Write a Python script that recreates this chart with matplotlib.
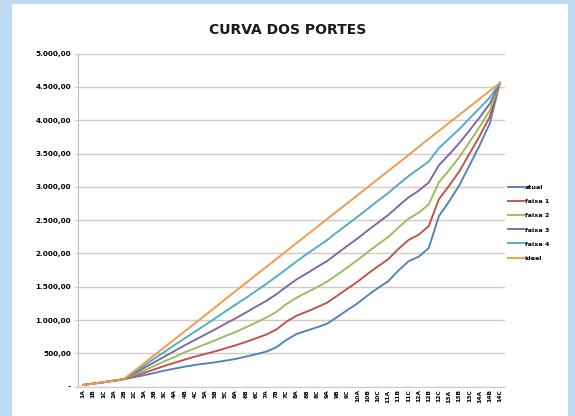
import matplotlib
matplotlib.use("Agg")
import matplotlib.pyplot as plt
from matplotlib.ticker import FuncFormatter

# categorias do eixo x
categorias = ['1A', '1B', '1C', '2A', '2B', '2C', '3A', '3B', '3C',
              '4A', '4B', '4C', '5A', '5B', '5C', '6A', '6B', '6C',
              '7A', '7B', '7C', '8A', '8B', '8C', '9A', '9B', '9C',
              '10A', '10B', '10C', '11A', '11B', '11C', '12A', '12B', '12C',
              '13A', '13B', '13C', '14A', '14B', '14C']

# valores (aproximados)
atual = [25, 45, 65, 88, 110, 140, 170, 205, 240, 270, 300, 325, 345, 365,
         390, 415, 450, 485, 525, 590, 700, 790, 840, 890, 945, 1045, 1150,
         1250, 1370, 1480, 1580, 1740, 1880, 1950, 2080, 2560, 2780, 3020,
         3320, 3620, 3950, 4560]
faixa1 = [25, 45, 65, 88, 110, 158, 205, 258, 310, 358, 405, 450, 490, 530,
          575, 620, 670, 725, 780, 855, 975, 1065, 1125, 1190, 1260, 1365,
          1470, 1575, 1695, 1805, 1910, 2065, 2200, 2280, 2410, 2815, 3015,
          3230, 3495, 3760, 4050, 4560]
faixa2 = [25, 45, 65, 88, 110, 175, 240, 310, 380, 445, 515, 575, 635, 695,
          760, 820, 890, 960, 1035, 1120, 1240, 1335, 1415, 1490, 1575, 1680,
          1790, 1900, 2020, 2135, 2245, 2385, 2520, 2610, 2735, 3070, 3250,
          3445, 3670, 3900, 4145, 4560]
faixa3 = [25, 45, 65, 88, 110, 195, 280, 365, 450, 535, 620, 700, 780, 860,
          945, 1025, 1110, 1200, 1285, 1385, 1500, 1610, 1700, 1795, 1885,
          2000, 2115, 2225, 2345, 2460, 2575, 2710, 2840, 2940, 3065, 3325,
          3485, 3655, 3845, 4040, 4245, 4560]
faixa4 = [25, 45, 65, 88, 110, 210, 315, 420, 520, 625, 725, 825, 925, 1025,
          1130, 1230, 1330, 1435, 1540, 1650, 1765, 1880, 1990, 2095, 2200,
          2320, 2435, 2550, 2670, 2790, 2905, 3035, 3160, 3270, 3380, 3580,
          3725, 3865, 4025, 4180, 4340, 4560]
ideal = [25, 45, 65, 88, 110, 230, 350, 470, 590, 710, 830, 950, 1070, 1190,
         1315, 1435, 1555, 1675, 1795, 1915, 2035, 2155, 2275, 2395, 2515,
         2635, 2755, 2875, 2995, 3115, 3235, 3355, 3475, 3600, 3720, 3840,
         3960, 4080, 4200, 4320, 4440, 4560]

series = [('atual', atual, '#4F81BD'),
          ('faixa 1', faixa1, '#C0504D'),
          ('faixa 2', faixa2, '#9BBB59'),
          ('faixa 3', faixa3, '#8064A2'),
          ('faixa 4', faixa4, '#4BACC6'),
          ('ideal', ideal, '#F79646')]


def fmt_valor(v, pos):
    # formato contabil do Excel: 5.000,00 e "-" para zero
    if abs(v) < 1e-9:
        return '-'
    s = '{:,.2f}'.format(v)
    return s.replace(',', '#').replace('.', ',').replace('#', '.')


fig = plt.figure(figsize=(5.75, 4.16), dpi=100, facecolor='#BDDCF3')
# painel branco
painel = plt.Rectangle((12 / 575, 0), 556 / 575, 412 / 416,
                       transform=fig.transFigure, facecolor='white',
                       edgecolor='none', zorder=-10)
fig.add_artist(painel)

ax = fig.add_axes([78 / 575, 29.4 / 416, 427 / 575, 333 / 416])
ax.set_zorder(1)
ax.set_facecolor('white')

x = list(range(len(categorias)))
for nome, valores, cor in series:
    ax.plot(x, valores, color=cor, linewidth=1.35, label=nome)

ax.set_xlim(-0.5, len(categorias) - 0.5)
ax.set_ylim(0, 5000)
ax.set_yticks(range(0, 5001, 500))
ax.yaxis.set_major_formatter(FuncFormatter(fmt_valor))
ax.set_xticks(x)
ax.set_xticklabels(categorias, rotation=90, fontsize=4.3, fontweight='bold')

ax.grid(axis='y', color='#D5C9C5', linewidth=1.0)
ax.set_axisbelow(True)
for lado in ['top', 'right']:
    ax.spines[lado].set_visible(False)
ax.spines['left'].set_color('#C9BDB8')
ax.spines['bottom'].set_color('#D5C9C5')
ax.tick_params(axis='y', labelsize=5.2, length=2.5, width=0.8,
               color='#C9BDB8', pad=2.5)
ax.tick_params(axis='x', length=0, pad=2)
for t in ax.get_yticklabels():
    t.set_fontweight('bold')

fig.text(288 / 575, 1 - 30 / 416, 'CURVA DOS PORTES', ha='center',
         va='center', fontsize=10, fontweight='bold', color='#1a1a1a')

leg = ax.legend(loc='center left', bbox_to_anchor=(1.0, 0.492), frameon=False,
                prop={'size': 4.6, 'weight': 'bold'}, handlelength=2.4,
                handletextpad=0.2, labelspacing=1.35, borderaxespad=0.1)

plt.savefig('out.png', dpi=100, facecolor=fig.get_facecolor())
